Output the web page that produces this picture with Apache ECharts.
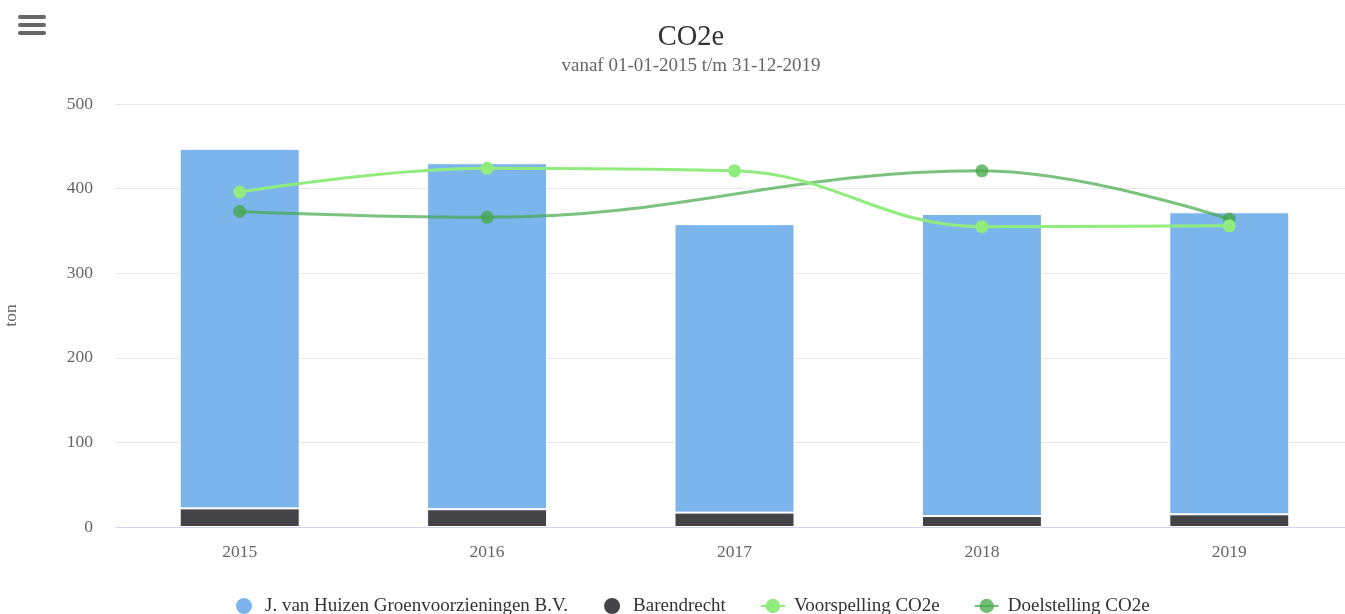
<!DOCTYPE html>
<html><head><meta charset="utf-8">
<script src="https://cdn.jsdelivr.net/npm/echarts@6/dist/echarts.min.js"></script>
<style>html,body{margin:0;padding:0;background:#fff}#c{width:1345px;height:614px}</style>
</head><body><div id="c"></div>
<script>
const categories = ['2015', '2016', '2017', '2018', '2019'];
const vanHuizen = [425, 409, 341, 357, 357];
const barendrecht = [22, 21, 17, 13, 15];
const voorspelling = [396, 424, 421, 355, 356];
const doelstelling = [373, 366, null, 421, 364];
const yTicks = [0, 100, 200, 300, 400, 500];

const FONT = 'Liberation Serif';
const chart = echarts.init(document.getElementById('c'));
chart.setOption({
  animation: false,
  textStyle: { fontFamily: FONT },
  title: {
    text: 'CO2e', subtext: 'vanaf 01-01-2015 t/m 31-12-2019',
    left: 686, textAlign: 'center', top: 18, itemGap: 5,
    textStyle: { fontFamily: FONT, fontSize: 28.5, fontWeight: 'normal', color: '#333' },
    subtextStyle: { fontFamily: FONT, fontSize: 19, color: '#666' }
  },
  legend: {
    top: 591, left: 229, itemGap: 34, itemWidth: 24, itemHeight: 18,
    textStyle: { fontFamily: FONT, fontSize: 19, color: '#333', padding: [0, 0, 0, 4] },
    data: [
      { name: 'J. van Huizen Groenvoorzieningen B.V.', icon: 'circle' },
      { name: 'Barendrecht', icon: 'circle' },
      { name: 'Voorspelling CO2e' },
      { name: 'Doelstelling CO2e' }
    ]
  },
  grid: { left: 116, right: -8, top: 104, bottom: 87, outerBoundsMode: 'none', containLabel: false },
  xAxis: {
    type: 'category', data: categories,
    axisLine: { lineStyle: { color: '#ccd6eb' } },
    axisTick: { show: false },
    axisLabel: { color: '#666', fontSize: 17.5, margin: 16, fontFamily: FONT }
  },
  yAxis: {
    type: 'value', min: yTicks[0], max: yTicks[yTicks.length - 1], interval: 100,
    name: 'ton', nameLocation: 'middle', nameGap: 96, nameRotate: 90,
    nameTextStyle: { color: '#666', fontSize: 17.5, fontFamily: FONT },
    axisLine: { show: false }, axisTick: { show: false },
    axisLabel: { color: '#666', fontSize: 17.5, margin: 23, fontFamily: FONT },
    splitLine: { lineStyle: { color: '#e6e6e6' } }
  },
  graphic: [
    { type: 'rect', left: 18, top: 15, shape: { width: 28, height: 4, r: 2 }, style: { fill: '#666' } },
    { type: 'rect', left: 18, top: 23, shape: { width: 28, height: 4, r: 2 }, style: { fill: '#666' } },
    { type: 'rect', left: 18, top: 31, shape: { width: 28, height: 4, r: 2 }, style: { fill: '#666' } }
  ],
  series: [
    { name: 'Barendrecht', type: 'bar', stack: 'a', data: barendrecht, barWidth: 120,
      itemStyle: { color: '#434348', borderColor: '#fff', borderWidth: 1 } },
    { name: 'J. van Huizen Groenvoorzieningen B.V.', type: 'bar', stack: 'a', data: vanHuizen, barWidth: 120,
      itemStyle: { color: '#7cb5ec', borderColor: '#fff', borderWidth: 1 } },
    { name: 'Voorspelling CO2e', type: 'line', data: voorspelling, smooth: 0.4,
      symbol: 'circle', symbolSize: 13, z: 5,
      lineStyle: { color: '#90ed7d', width: 3 }, itemStyle: { color: '#90ed7d' } },
    { name: 'Doelstelling CO2e', type: 'line', data: doelstelling, smooth: 0.4, connectNulls: true,
      symbol: 'circle', symbolSize: 13, z: 4,
      lineStyle: { color: 'rgba(67,168,72,0.7)', width: 3 }, itemStyle: { color: 'rgba(67,168,72,0.75)' } }
  ]
});
</script></body></html>
